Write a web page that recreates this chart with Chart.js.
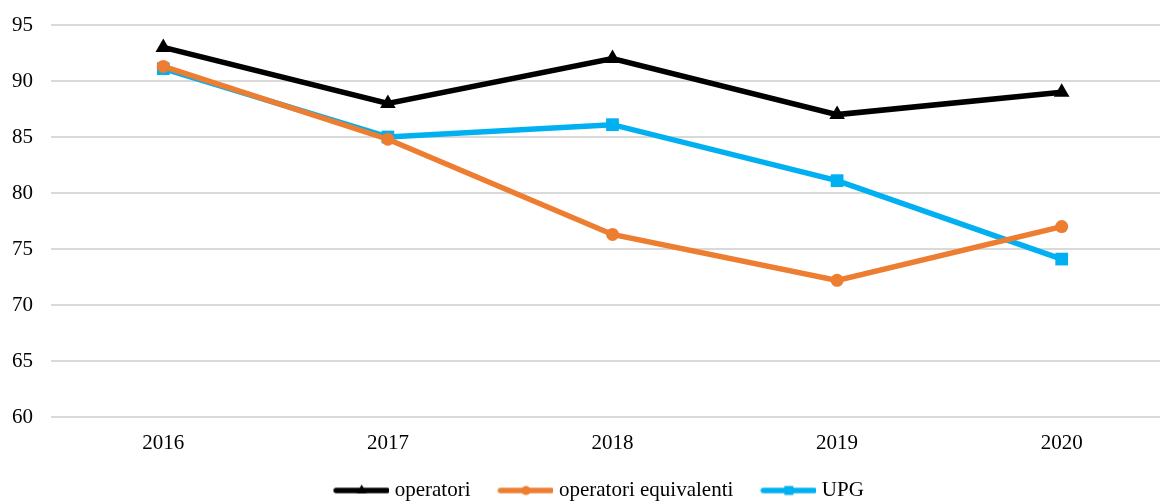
<!DOCTYPE html>
<html>
<head>
<meta charset="utf-8">
<script src="https://cdn.jsdelivr.net/npm/chart.js@4.4.1/dist/chart.umd.min.js"></script>
<style>
  html, body { margin: 0; padding: 0; background: #fff; overflow: hidden; }
  #wrap { position: relative; width: 1220px; height: 511px; }
</style>
</head>
<body>
<div id="wrap"><canvas id="c" width="1220" height="511"></canvas></div>
<script>
const categories = ['2016', '2017', '2018', '2019', '2020'];
const operatori = [93, 88, 92, 87, 89];
const operatoriEquivalenti = [91.3, 84.8, 76.3, 72.2, 77.0];
const upg = [91.1, 85.0, 86.1, 81.1, 74.1];
const yTicks = [60, 65, 70, 75, 80, 85, 90, 95];

const FONT = 'Liberation Serif';
const FS = 21;
const BOXW = 50, EXT = 5;

function legendIcon(color, style) {
  const cv = document.createElement('canvas');
  cv.width = BOXW + 2 * EXT; cv.height = 16;
  const g = cv.getContext('2d');
  g.strokeStyle = color; g.fillStyle = color; g.lineWidth = 5.5; g.lineCap = 'round';
  g.beginPath(); g.moveTo(EXT + 2, 8); g.lineTo(cv.width - 2, 8); g.stroke();
  const cx = EXT + (BOXW + EXT) / 2;
  g.beginPath();
  if (style === 'triangle') { g.moveTo(cx, 2); g.lineTo(cx + 5, 11); g.lineTo(cx - 5, 11); g.closePath(); g.fill(); }
  else if (style === 'circle') { g.arc(cx, 8, 4.5, 0, Math.PI * 2); g.fill(); }
  else { g.fillRect(cx - 4.5, 3.5, 9, 9); }
  return cv;
}

const series = [
  { label: 'operatori', data: operatori, color: '#000000', style: 'triangle', r: 9 },
  { label: 'operatori equivalenti', data: operatoriEquivalenti, color: '#ED7D31', style: 'circle', r: 6.5 },
  { label: 'UPG', data: upg, color: '#00B0F0', style: 'rect', r: 9 }
];

const legendShift = {
  id: 'legendShift',
  afterLayout(chart) {
    if (chart.legend) { chart.legend.left += 12; chart.legend.right += 12; }
  }
};

new Chart(document.getElementById('c'), {
  type: 'line',
  plugins: [legendShift],
  data: {
    labels: categories,
    datasets: series.map(s => ({
      label: s.label,
      data: s.data,
      borderColor: s.color,
      backgroundColor: s.color,
      borderWidth: 5.5,
      pointStyle: s.style,
      pointRadius: s.r,
      pointBorderWidth: 0,
      pointHoverRadius: s.r,
      tension: 0,
      fill: false
    }))
  },
  options: {
    responsive: false,
    animation: false,
    devicePixelRatio: 1,
    layout: { padding: { top: 25, right: 46, left: 0, bottom: 0 } },
    scales: {
      x: {
        offset: true,
        grid: { display: false, drawTicks: false },
        border: { display: false },
        ticks: { color: '#000', font: { family: FONT, size: FS }, padding: 14 },
        afterFit: sc => { sc.height = 35; }
      },
      y: {
        min: 60, max: 95,
        afterBuildTicks: ax => { ax.ticks = yTicks.map(v => ({ value: v })); },
        grid: { color: '#D9D9D9', lineWidth: 2, drawTicks: false },
        border: { display: false },
        ticks: { color: '#000', font: { family: FONT, size: FS }, padding: 18 },
        afterFit: sc => { sc.width = 51; sc.paddingTop = 0; sc.paddingBottom = 0; }
      }
    },
    plugins: {
      tooltip: { enabled: false },
      legend: {
        position: 'bottom',
        labels: {
          color: '#000',
          font: { family: FONT, size: FS },
          usePointStyle: true,
          pointStyleWidth: BOXW,
          padding: 28,
          generateLabels: chart => series.map((s, i) => ({
            text: s.label,
            pointStyle: legendIcon(s.color, s.style),
            fillStyle: s.color,
            strokeStyle: s.color,
            lineWidth: 0,
            datasetIndex: i,
            hidden: false
          }))
        }
      }
    }
  }
});
</script>
</body>
</html>
